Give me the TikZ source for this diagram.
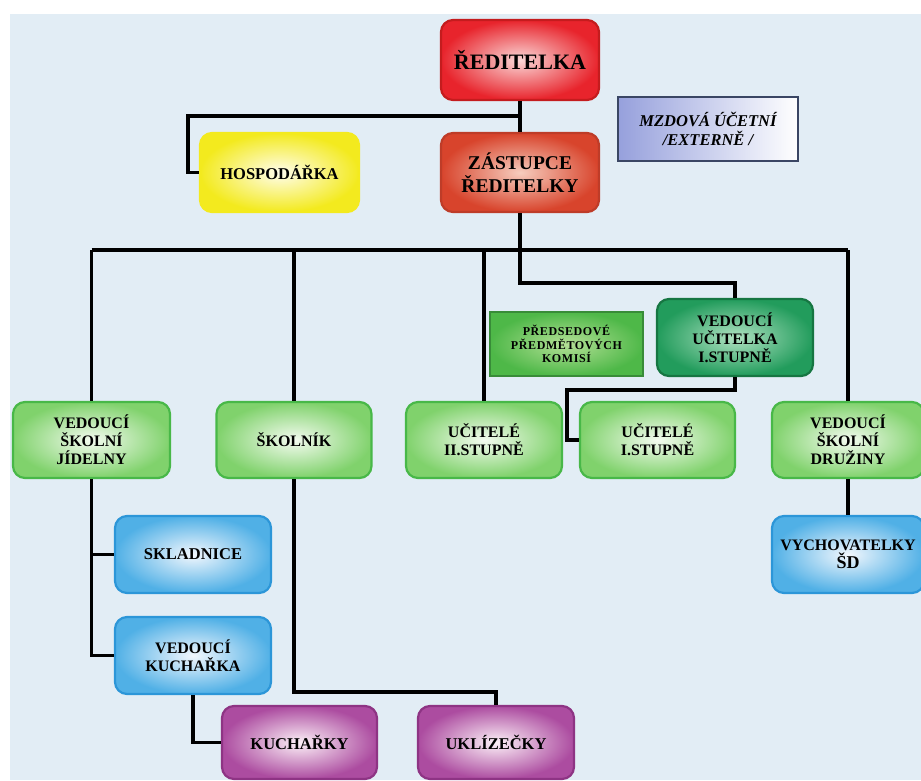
\documentclass[tikz,border=0pt]{standalone}
\usepackage{fontspec}
\setmainfont{Liberation Serif}
\usetikzlibrary{calc}
\definecolor{bg}{RGB}{226,237,245}
\definecolor{redout}{RGB}{232,36,44}
\definecolor{redin}{RGB}{250,215,215}
\definecolor{redbd}{RGB}{196,28,30}
\definecolor{orout}{RGB}{216,68,44}
\definecolor{orin}{RGB}{246,205,190}
\definecolor{orbd}{RGB}{190,60,40}
\definecolor{yelout}{RGB}{243,234,30}
\definecolor{yelin}{RGB}{255,253,236}
\definecolor{gout}{RGB}{128,210,108}
\definecolor{gin}{RGB}{244,251,240}
\definecolor{gbd}{RGB}{72,184,72}
\definecolor{tout}{RGB}{34,156,92}
\definecolor{tin}{RGB}{176,226,194}
\definecolor{tbd}{RGB}{22,118,66}
\definecolor{pgout}{RGB}{78,184,72}
\definecolor{pgin}{RGB}{180,224,150}
\definecolor{pgbd}{RGB}{56,140,56}
\definecolor{bout}{RGB}{80,176,230}
\definecolor{bin}{RGB}{242,247,253}
\definecolor{bbd}{RGB}{44,150,216}
\definecolor{pout}{RGB}{172,76,160}
\definecolor{pin}{RGB}{252,240,247}
\definecolor{pbd}{RGB}{142,52,132}
\definecolor{mzl}{RGB}{150,160,220}
\definecolor{mzbd}{RGB}{58,70,100}
\tikzset{
  box/.style={rounded corners=12pt, line width=2.2pt, align=center, inner sep=2pt,
    font=\fontsize{16}{18}\selectfont\bfseries},
  redbox/.style={box, draw=redbd, inner color=redin, outer color=redout},
  orbox/.style={box, draw=orbd, inner color=orin, outer color=orout},
  yelbox/.style={box, draw=yelout, inner color=yelin, outer color=yelout},
  greenbox/.style={box, draw=gbd, inner color=gin, outer color=gout},
  tealbox/.style={box, draw=tbd, inner color=tin, outer color=tout},
  bluebox/.style={box, draw=bbd, inner color=bin, outer color=bout},
  purbox/.style={box, draw=pbd, inner color=pin, outer color=pout},
  conn/.style={line width=3.5pt, black},
}
\begin{document}
\begin{tikzpicture}[x=1pt,y=-1pt]
\useasboundingbox (0,0) rectangle (921,780);
\clip (0,0) rectangle (921,780);
\fill[bg] (10,14) rectangle (921,780);

% top level
\node[redbox, minimum width=158, minimum height=80, font=\fontsize{22}{24}\selectfont\bfseries] (red1) at (520,60) {ŘEDITELKA};
\node[orbox, minimum width=158, minimum height=79, font=\fontsize{19.5}{23}\selectfont\bfseries] (zast) at (520,172.5) {ZÁSTUPCE\\ŘEDITELKY};
\node[yelbox, minimum width=159, minimum height=79, font=\fontsize{16.5}{18}\selectfont\bfseries] (hosp) at (279.5,172.5) {HOSPODÁŘKA};
\node[draw=mzbd, line width=1.5pt, left color=mzl, right color=white, minimum width=180, minimum height=64, align=center,
  font=\fontsize{16.5}{19}\selectfont\bfseries\itshape] (mzd) at (708,129) {MZDOVÁ ÚČETNÍ\\/EXTERNĚ /};

% middle
\node[tealbox, minimum width=156, minimum height=77] (vuc) at (735,337.5) {VEDOUCÍ\\UČITELKA\\I.STUPNĚ};
\node[draw=pgbd, line width=1.2pt, inner color=pgin, outer color=pgout, minimum width=153, minimum height=64, align=center,
  font=\fontsize{12}{13.5}\selectfont\bfseries\addfontfeatures{LetterSpace=5}] (pred) at (566.5,344) {PŘEDSEDOVÉ\\PŘEDMĚTOVÝCH\\KOMISÍ};

% row of green boxes
\node[greenbox, minimum width=157, minimum height=76] (jid) at (91.5,440) {VEDOUCÍ\\ŠKOLNÍ\\JÍDELNY};
\node[greenbox, minimum width=155, minimum height=76] (skol) at (294,440) {ŠKOLNÍK};
\node[greenbox, minimum width=156, minimum height=76] (uc2) at (484,440) {UČITELÉ\\II.STUPNĚ};
\node[greenbox, minimum width=155, minimum height=76] (uc1) at (657.5,440) {UČITELÉ\\I.STUPNĚ};
\node[greenbox, minimum width=152, minimum height=76] (dru) at (848,440) {VEDOUCÍ\\ŠKOLNÍ\\DRUŽINY};

% lower
\node[bluebox, minimum width=156, minimum height=77, font=\fontsize{16.5}{18}\selectfont\bfseries] (sklad) at (193,554.5) {SKLADNICE};
\node[bluebox, minimum width=156, minimum height=77] (vkuch) at (193,655.5) {VEDOUCÍ\\KUCHAŘKA};
\node[bluebox, minimum width=152, minimum height=77] (vych) at (848,554.5) {VYCHOVATELKY\\{\fontsize{18}{20}\selectfont ŠD}};
\node[purbox, minimum width=155, minimum height=73, font=\fontsize{16.5}{18}\selectfont\bfseries] (kuch) at (299.5,742.5) {KUCHAŘKY};
\node[purbox, minimum width=156, minimum height=73, font=\fontsize{16.5}{18}\selectfont\bfseries] (ukl) at (496,742.5) {UKLÍZEČKY};

% junction coordinates
\coordinate (j1) at (520,116);
\coordinate (h1) at (188,116);
\coordinate (busL) at (91.5,250);
\coordinate (busR) at (848,250);
\coordinate (k1) at (520,283);
\coordinate (k2) at (567,390);
\coordinate (k3) at (294,692);

% connectors
\draw[conn] (red1.south) -- (zast.north);
\draw[conn] (j1) -- (h1) |- (hosp.west);
\draw[conn] (zast.south) -- (k1) -| (vuc.north);
\draw[conn] (busL) -- (busR);
\draw[conn] (busL) -- (jid.north);
\draw[conn] (skol.north |- busL) -- (skol.north);
\draw[conn] (uc2.north |- busL) -- (uc2.north);
\draw[conn] (busR) -- (dru.north);
\draw[conn] (vuc.south) |- (k2) |- (uc1.west);
\draw[conn] (jid.south) |- (vkuch.west);
\draw[conn] (jid.south |- sklad.west) -- (sklad.west);
\draw[conn] (skol.south) -- (k3) -| (ukl.north);
\draw[conn] (vkuch.south) |- (kuch.west);
\draw[conn] (dru.south) -- (vych.north);
\end{tikzpicture}
\end{document}
